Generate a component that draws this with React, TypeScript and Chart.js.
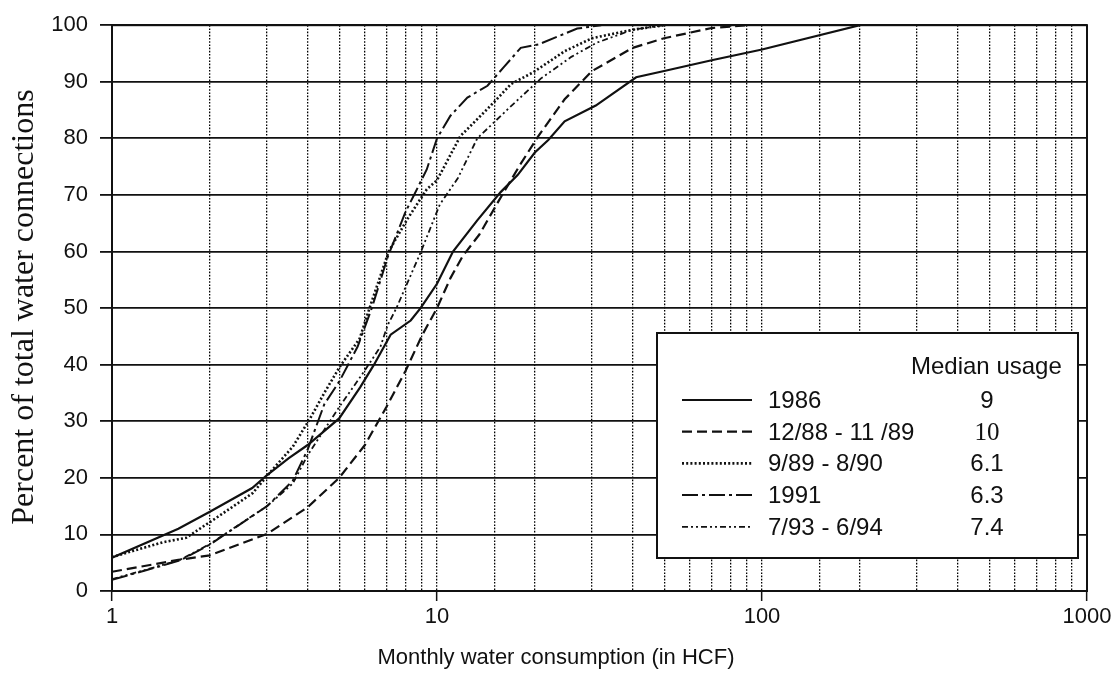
import { useEffect, useRef } from "react";
import { Chart, registerables } from "chart.js";

Chart.register(...registerables);

// ---------- data ----------
const seriesLabels = ["1986", "12/88 - 11 /89", "9/89 - 8/90", "1991", "7/93 - 6/94"];
const medianUsage = ["9", "10", "6.1", "6.3", "7.4"];
const legendHeader = "Median usage";
const xAxisTitle = "Monthly water consumption (in HCF)";
const yAxisTitle = "Percent of total water connections";
const xTickLabels = [1, 10, 100, 1000];
const yTickValues = [0, 10, 20, 30, 40, 50, 60, 70, 80, 90, 100];

const usage1986 = [1, 1.6, 2, 2.7, 3, 3.5, 4, 5, 5.8, 6.4, 7.2, 8.3, 8.9, 10, 11.2, 13.3, 15.7, 17.7, 20, 22, 24.7, 30.8, 41, 50, 70, 100, 200];
const pct1986 = [5.9, 11, 14, 18.2, 20.5, 23.5, 25.8, 30.5, 36, 40, 45.3, 47.8, 50, 54.3, 60, 65.5, 70.5, 73.5, 77.5, 79.7, 83, 85.8, 90.8, 91.9, 93.8, 95.7, 100];

const usage8889 = [1, 1.6, 2, 3, 4, 5, 6, 7, 8, 9, 10, 11, 12, 13.5, 15.5, 18, 20.5, 24.7, 30, 40, 50, 70, 90];
const pct8889 = [3.4, 5.5, 6.3, 10.1, 14.8, 20, 25.8, 32.6, 38.9, 45.2, 50, 55.3, 59.2, 63, 69, 75.3, 80.4, 86.9, 91.9, 96, 97.7, 99.5, 100];

const usage8990 = [1, 1.43, 1.69, 2.09, 2.71, 3.1, 3.6, 4.07, 4.52, 5.03, 5.78, 6.2, 7.1, 8.1, 9.3, 10, 11.8, 14.3, 16.9, 19.8, 24.7, 30, 40, 50];
const pct8990 = [6.0, 8.6, 9.4, 12.9, 17.3, 21.3, 25.5, 30.5, 35.2, 39.7, 44.6, 50, 60, 65.7, 71, 72.6, 80.4, 85.2, 89.6, 91.7, 95.4, 97.7, 99.2, 100];

const usage1991 = [1, 1.28, 1.62, 2, 3, 3.6, 4, 4.5, 5, 5.7, 6.3, 7.05, 8, 8.5, 9.3, 10, 11, 12.4, 14.3, 16, 18.1, 20.5, 27, 32];
const pct1991 = [2, 3.7, 5.4, 8.2, 15, 19.5, 25, 33, 37, 43.2, 50, 59, 67, 70, 74.5, 80, 84, 87.2, 89.3, 92.5, 96, 96.6, 99.4, 100];

const usage9394 = [1, 1.28, 1.62, 2, 3, 3.6, 4, 4.5, 5, 6, 6.7, 7.05, 7.5, 8.9, 10.2, 11.6, 13.3, 16.9, 20.9, 25.9, 31, 40, 50];
const pct9394 = [2.1, 3.8, 5.5, 8.3, 15, 19, 24, 28.5, 32.5, 39, 43.2, 47, 50, 59.8, 68.3, 73, 80, 85.7, 90.6, 94.4, 96.9, 99.2, 100];

const seriesUsage = [usage1986, usage8889, usage8990, usage1991, usage9394];
const seriesPct = [pct1986, pct8889, pct8990, pct1991, pct9394];

// ---------- styles ----------
const INK = "#111";
const SANS = "'Liberation Sans', Arial, Helvetica, sans-serif";
const SERIF = "'Liberation Serif', 'Times New Roman', serif";
const lineStyles = [
  { dash: [] as number[], width: 2.2 },
  { dash: [10, 5], width: 2.2 },
  { dash: [2, 2.2], width: 2.6 },
  { dash: [16, 4, 3, 4], width: 2 },
  { dash: [6, 3, 2, 3, 2, 3], width: 1.8 },
];

const decorPlugin = {
  id: "decor",
  afterDraw(chart: any) {
    const { ctx, chartArea: a } = chart;
    ctx.save();
    // frame
    ctx.strokeStyle = INK;
    ctx.lineWidth = 2;
    ctx.setLineDash([]);
    ctx.strokeRect(a.left, a.top, a.right - a.left, a.bottom - a.top);

    // legend box
    const bx = 657, by = 333, bw = 421, bh = 225;
    ctx.fillStyle = "#fff";
    ctx.fillRect(bx, by, bw, bh);
    ctx.lineWidth = 2;
    ctx.strokeRect(bx, by, bw, bh);
    ctx.fillStyle = INK;
    ctx.font = `24px ${SANS}`;
    ctx.textBaseline = "alphabetic";
    ctx.textAlign = "left";
    ctx.fillText(legendHeader, 911, 374);
    seriesLabels.forEach((lab, i) => {
      const cy = 400 + i * 31.7;
      ctx.save();
      ctx.strokeStyle = INK;
      ctx.lineWidth = lineStyles[i].width;
      ctx.setLineDash(lineStyles[i].dash);
      ctx.beginPath();
      ctx.moveTo(682, cy);
      ctx.lineTo(752, cy);
      ctx.stroke();
      ctx.restore();
      ctx.textAlign = "left";
      ctx.font = `24px ${SANS}`;
      ctx.fillText(lab, 768, cy + 8);
      ctx.textAlign = "center";
      ctx.font = i === 1 ? `25px ${SERIF}` : `24px ${SANS}`;
      ctx.fillText(medianUsage[i], 987, cy + 8);
    });

    // axis titles
    ctx.textAlign = "center";
    ctx.font = `22px ${SANS}`;
    ctx.fillText(xAxisTitle, 556, 664);
    ctx.translate(33, 307);
    ctx.rotate(-Math.PI / 2);
    ctx.font = `32px ${SERIF}`;
    ctx.fillText(yAxisTitle, 0, 0);
    ctx.restore();
  },
};

export default function App() {
  const ref = useRef<HTMLCanvasElement | null>(null);
  useEffect(() => {
    if (!ref.current) return;
    const datasets = seriesLabels.map((label, i) => ({
      label,
      data: seriesUsage[i].map((x, j) => ({ x, y: seriesPct[i][j] })),
      borderColor: INK,
      backgroundColor: INK,
      borderWidth: lineStyles[i].width,
      borderDash: lineStyles[i].dash,
      pointRadius: 0,
      tension: 0,
      fill: false,
    }));
    const chart = new Chart(ref.current, {
      type: "line",
      data: { datasets },
      plugins: [decorPlugin],
      options: {
        animation: false,
        responsive: false,
        devicePixelRatio: 1,
        layout: { padding: { left: 0, right: 29, top: 19, bottom: 0 } },
        plugins: { legend: { display: false }, tooltip: { enabled: false } },
        scales: {
          x: {
            type: "logarithmic",
            min: 1,
            max: 1000,
            afterFit: (s: any) => { s.height = 92; },
            border: { display: true, color: INK, width: 2, dash: [1.6, 1.6] },
            grid: {
              color: "#000",
              lineWidth: 1.3,
              tickLength: 10,
              tickBorderDash: [],
              tickColor: (c: any) => {
                const v = c.tick ? c.tick.value : 0;
                return xTickLabels.includes(v) ? INK : "rgba(0,0,0,0)";
              },
              tickWidth: 1.5,
            },
            ticks: {
              autoSkip: false,
              maxRotation: 0,
              padding: 3,
              color: INK,
              font: { size: 22, family: SANS },
              callback: (v: any) => (xTickLabels.includes(Number(v)) ? String(v) : ""),
            },
          },
          y: {
            type: "linear",
            min: 0,
            max: 100,
            afterFit: (s: any) => { s.width = 112; },
            afterBuildTicks: (s: any) => { s.ticks = yTickValues.map((v) => ({ value: v })); },
            border: { display: true, color: INK, width: 2 },
            grid: { color: INK, lineWidth: 1.8, tickLength: 12, tickColor: INK },
            ticks: {
              padding: 12,
              color: INK,
              font: { size: 22, family: SANS },
            },
          },
        },
      },
    });
    return () => chart.destroy();
  }, []);
  return (
    <div style={{ position: "absolute", left: 0, top: 0, width: 1116, height: 683, background: "#fff" }}>
      <canvas ref={ref} width={1116} height={683} />
    </div>
  );
}
